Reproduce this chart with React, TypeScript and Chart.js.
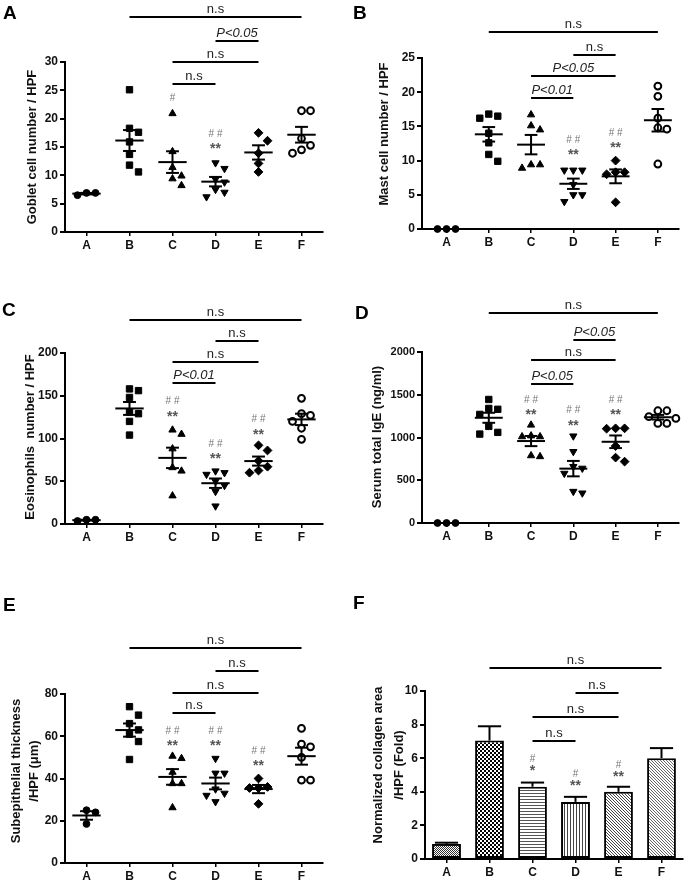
import React, { useEffect, useRef } from 'react';
import { Chart, registerables } from 'chart.js';

Chart.register(...registerables);

const FONT = '"Liberation Sans", Arial, Helvetica, sans-serif';
Chart.defaults.font.family = FONT;

const groupLabels = ['A', 'B', 'C', 'D', 'E', 'F'];

// ---------- Panel A: Goblet cell number / HPF ----------
const gobletTicks = [0, 5, 10, 15, 20, 25, 30];
const gobletValues = [
  [6.9, 6.5, 6.9],
  [25.1, 18.3, 17.6, 15.9, 13.7, 11.8, 10.6],
  [20.9, 14.2, 11.4, 9.9, 9.4, 8.2],
  [12.2, 11.2, 9.3, 8.8, 7.5, 7.0, 6.2],
  [17.5, 16.1, 13.9, 12.1, 10.6],
  [21.4, 21.4, 16.5, 15.3, 14.5, 13.9],
];
const gobletBrackets: [number, number, number, string][] = [
  [1, 5, 37.9, 'n.s'],
  [3, 4, 33.7, 'P<0.05'],
  [2, 4, 30.0, 'n.s'],
  [2, 3, 26.1, 'n.s'],
];
const gobletMarks = [[], [], ['#'], ['##', '**'], [], []];
const gobletMarkY = [0, 0, 23.6, 15.2, 0, 0];

// ---------- Panel B: Mast cell number / HPF ----------
const mastTicks = [0, 5, 10, 15, 20, 25];
const mastValues = [
  [0, 0, 0],
  [16.8, 16.5, 16.2, 14.0, 12.6, 10.9, 9.9],
  [16.7, 15.1, 14.5, 9.4, 9.4, 8.9],
  [8.6, 8.6, 8.6, 6.5, 5.0, 5.0, 4.0],
  [10.0, 8.3, 8.3, 8.0, 3.9],
  [20.9, 19.4, 16.2, 14.8, 14.6, 9.5],
];
const mastBrackets: [number, number, number, string][] = [
  [1, 5, 28.8, 'n.s'],
  [3, 4, 25.4, 'n.s'],
  [2, 4, 22.4, 'P<0.05'],
  [2, 3, 19.2, 'P<0.01'],
];
const mastMarks = [[], [], [], ['##', '**'], ['##', '**'], []];
const mastMarkY = [0, 0, 0, 11.2, 12.2, 0];

// ---------- Panel C: Eosinophils number / HPF ----------
const eosTicks = [0, 50, 100, 150, 200];
const eosValues = [
  [5, 3.5, 5],
  [158, 156, 148, 131, 129, 120, 104],
  [110, 105, 88, 66, 62, 33],
  [62, 60, 58, 50, 45, 38, 21],
  [92, 86, 74, 67, 62.5, 60],
  [147, 129, 127, 120, 112, 99],
];
const eosBrackets: [number, number, number, string][] = [
  [1, 5, 238.6, 'n.s'],
  [3, 4, 214, 'n.s'],
  [2, 4, 189.5, 'n.s'],
  [2, 3, 165, 'P<0.01'],
];
const eosMarks = [[], [], ['##', '**'], ['##', '**'], ['##', '**'], []];
const eosMarkY = [0, 0, 129, 78.8, 108, 0];

// ---------- Panel D: Serum total IgE (ng/ml) ----------
const igeTicks = [0, 500, 1000, 1500, 2000];
const igeValues = [
  [0, 0, 0],
  [1445, 1340, 1330, 1270, 1130, 1060, 1040],
  [1146, 1020, 1010, 1010, 788, 777],
  [1017, 835, 660, 640, 580, 369, 350],
  [1107, 1107, 1103, 900, 765, 718],
  [1313, 1313, 1243, 1223, 1165, 1165],
];
const igeBrackets: [number, number, number, string][] = [
  [1, 5, 2456, 'n.s'],
  [3, 4, 2140, 'P<0.05'],
  [2, 4, 1906, 'n.s'],
  [2, 3, 1626, 'P<0.05'],
];
const igeMarks = [[], [], ['##', '**'], ['##', '**'], ['##', '**'], []];
const igeMarkY = [0, 0, 1301, 1173, 1301, 0];

// ---------- Panel E: Subepithelial thickness /HPF (μm) ----------
const thickTicks = [0, 20, 40, 60, 80];
const thickValues = [
  [25, 24, 18.5],
  [74, 70, 66, 63, 61, 57.5, 49],
  [50.6, 49.5, 43, 37.6, 37.6, 26.2],
  [49.5, 42.5, 42.5, 35, 33, 32, 29],
  [40, 36, 35.5, 35.5, 28],
  [63.7, 56.3, 55, 50, 39.2, 39.2],
];
const thickBrackets: [number, number, number, string][] = [
  [1, 5, 101.8, 'n.s'],
  [3, 4, 90.9, 'n.s'],
  [2, 4, 80.5, 'n.s'],
  [2, 3, 71, 'n.s'],
];
const thickMarks = [[], [], ['##', '**'], ['##', '**'], ['##', '**'], []];
const thickMarkY = [0, 0, 56.6, 56.6, 47.1, 0];

// ---------- Panel F: Normalized collagen area /HPF (Fold) ----------
const collagenTicks = [0, 2, 4, 6, 8, 10];
const collagenMeans = [0.9, 7.05, 4.3, 3.4, 4.0, 6.0];
const collagenSem = [0.07, 0.85, 0.25, 0.3, 0.3, 0.6];
const collagenBrackets: [number, number, number, string][] = [
  [1, 5, 11.37, 'n.s'],
  [3, 4, 9.88, 'n.s'],
  [2, 4, 8.45, 'n.s'],
  [2, 3, 7.02, 'n.s'],
];
const collagenMarks = [[], [], ['#', '*'], ['#', '**'], ['#', '**'], []];
const collagenMarkY = [0, 0, 5.4, 4.5, 5.06, 0];

// ---------- marker styles per group ----------
const markerStyle = ['circle', 'rect', 'triangle', 'triangle', 'rectRot', 'circle'];
const markerRotation = [0, 0, 0, 180, 0, 0];
const markerRadius = [3.4, 4.5, 4.2, 4.2, 4.4, 3.4];
const markerFill = ['#000', '#000', '#000', '#000', '#000', '#fff'];
const markerBorderW = [1, 1, 1, 1, 1, 2];
const barPatternKinds = ['fineCheck', 'checker', 'hlines', 'vlines', 'diagDark', 'diagLight'];

type Spec = {
  kind: 'scatter' | 'bar';
  x0: number; y0: number; w: number; h: number;
  area: { l: number; t: number; r: number; b: number };
  xMin: number;
  tickSize: number;
  ticks: number[];
  values?: number[][];
  means?: number[];
  sems?: number[];
  brackets: [number, number, number, string][];
  marks: string[][];
  markY: number[];
  markGap: number;
  title: string[];
  titleX: number[];
  titleY: number;
  letter: string;
  letterX: number;
  letterY: number;
};

const panels: Spec[] = [
  {
    kind: 'scatter', x0: 0, y0: 0, w: 342, h: 262, area: { l: 65, t: 62, r: 323, b: 232 }, xMin: -0.5, tickSize: 12,
    ticks: gobletTicks, values: gobletValues, brackets: gobletBrackets, marks: gobletMarks, markY: gobletMarkY, markGap: 12,
    title: ['Goblet cell number / HPF'], titleX: [32], titleY: 147, letter: 'A', letterX: 3, letterY: 19,
  },
  {
    kind: 'scatter', x0: 342, y0: 0, w: 343, h: 262, area: { l: 80, t: 58, r: 341, b: 229 }, xMin: -0.58, tickSize: 12,
    ticks: mastTicks, values: mastValues, brackets: mastBrackets, marks: mastMarks, markY: mastMarkY, markGap: 12,
    title: ['Mast cell number / HPF'], titleX: [42], titleY: 134, letter: 'B', letterX: 11, letterY: 19,
  },
  {
    kind: 'scatter', x0: 0, y0: 262, w: 342, h: 300, area: { l: 65, t: 91, r: 323, b: 262 }, xMin: -0.5, tickSize: 12,
    ticks: eosTicks, values: eosValues, brackets: eosBrackets, marks: eosMarks, markY: eosMarkY, markGap: 12,
    title: ['Eosinophils  number / HPF'], titleX: [30], titleY: 175, letter: 'C', letterX: 2, letterY: 54,
  },
  {
    kind: 'scatter', x0: 342, y0: 262, w: 343, h: 300, area: { l: 80, t: 90, r: 341, b: 261 }, xMin: -0.58, tickSize: 11,
    ticks: igeTicks, values: igeValues, brackets: igeBrackets, marks: igeMarks, markY: igeMarkY, markGap: 12,
    title: ['Serum total IgE (ng/ml)'], titleX: [35], titleY: 175, letter: 'D', letterX: 13, letterY: 57,
  },
  {
    kind: 'scatter', x0: 0, y0: 562, w: 342, h: 320, area: { l: 65, t: 132, r: 323, b: 301 }, xMin: -0.5, tickSize: 12,
    ticks: thickTicks, values: thickValues, brackets: thickBrackets, marks: thickMarks, markY: thickMarkY, markGap: 12,
    title: ['Subepithelial thickness', '/HPF (\u03bcm)'], titleX: [16, 34], titleY: 209, letter: 'E', letterX: 3, letterY: 49,
  },
  {
    kind: 'bar', x0: 342, y0: 562, w: 343, h: 320, area: { l: 83, t: 129, r: 341, b: 297 }, xMin: -0.5, tickSize: 12,
    ticks: collagenTicks, means: collagenMeans, sems: collagenSem, brackets: collagenBrackets, marks: collagenMarks, markY: collagenMarkY, markGap: 9,
    title: ['Normalized collagen area', '/HPF (Fold)'], titleX: [36, 57], titleY: 203, letter: 'F', letterX: 11, letterY: 47,
  },
];

function makePattern(kind: string): CanvasPattern | string {
  const c = document.createElement('canvas');
  const g = c.getContext('2d');
  if (!g) return '#888';
  const px = (x: number, y: number, col: string) => { g.fillStyle = col; g.fillRect(x, y, 1, 1); };
  if (kind === 'fineCheck') {
    c.width = 2; c.height = 2;
    g.fillStyle = '#fff'; g.fillRect(0, 0, 2, 2);
    px(0, 0, '#333'); px(1, 1, '#333');
  } else if (kind === 'checker') {
    c.width = 4; c.height = 4;
    g.fillStyle = '#000'; g.fillRect(0, 0, 4, 4);
    g.fillStyle = '#fff'; g.fillRect(0, 0, 2, 2); g.fillRect(2, 2, 2, 2);
  } else if (kind === 'hlines') {
    c.width = 3; c.height = 3;
    g.fillStyle = '#fff'; g.fillRect(0, 0, 3, 3);
    g.fillStyle = '#555'; g.fillRect(0, 0, 3, 1);
  } else if (kind === 'vlines') {
    c.width = 3; c.height = 3;
    g.fillStyle = '#fff'; g.fillRect(0, 0, 3, 3);
    g.fillStyle = '#444'; g.fillRect(0, 0, 1, 3);
  } else {
    c.width = 3; c.height = 3;
    g.fillStyle = '#fff'; g.fillRect(0, 0, 3, 3);
    const col = kind === 'diagDark' ? '#444' : '#666';
    for (let i = 0; i < 3; i++) px(i, i, col);
  }
  const ctx = document.createElement('canvas').getContext('2d');
  return (ctx && ctx.createPattern(c, 'repeat')) || '#888';
}

function overlay(spec: Spec) {
  return {
    id: 'overlay',
    afterDatasetsDraw(chart: any) {
      const ctx: CanvasRenderingContext2D = chart.ctx;
      const xs = chart.scales.x;
      const ys = chart.scales.y;
      const unit = xs.getPixelForValue(1) - xs.getPixelForValue(0);
      const line = (x1: number, y1: number, x2: number, y2: number) => {
        ctx.beginPath(); ctx.moveTo(x1, y1); ctx.lineTo(x2, y2); ctx.stroke();
      };
      ctx.save();
      ctx.strokeStyle = '#000';
      ctx.lineWidth = 2;
      ctx.lineCap = 'butt';

      if (spec.kind === 'scatter' && spec.values) {
        spec.values.forEach((vals, g) => {
          const n = vals.length;
          const mean = vals.reduce((a, b) => a + b, 0) / n;
          const sd = Math.sqrt(vals.reduce((a, b) => a + (b - mean) * (b - mean), 0) / (n - 1));
          const sem = sd / Math.sqrt(n);
          const cx = xs.getPixelForValue(g);
          const my = ys.getPixelForValue(mean);
          line(cx - 0.33 * unit, my, cx + 0.33 * unit, my);
          if (sem > 0) {
            const t = ys.getPixelForValue(mean + sem);
            const b = ys.getPixelForValue(mean - sem);
            line(cx, t, cx, b);
            line(cx - 0.15 * unit, t, cx + 0.15 * unit, t);
            line(cx - 0.15 * unit, b, cx + 0.15 * unit, b);
          }
        });
      } else if (spec.means && spec.sems) {
        spec.means.forEach((m, g) => {
          const cx = xs.getPixelForValue(g);
          const b = ys.getPixelForValue(m);
          const t = ys.getPixelForValue(m + spec.sems![g]);
          line(cx, b, cx, t);
          line(cx - 0.27 * unit, t, cx + 0.27 * unit, t);
        });
      }

      // significance brackets
      spec.brackets.forEach(([a, b, yv, label]) => {
        const y = Math.round(ys.getPixelForValue(yv));
        const x1 = xs.getPixelForValue(a);
        const x2 = xs.getPixelForValue(b);
        ctx.lineWidth = 2;
        line(x1, y, x2, y);
        ctx.fillStyle = '#222';
        ctx.font = (label.startsWith('P') ? 'italic ' : '') + '13px ' + FONT;
        ctx.textAlign = 'center';
        ctx.textBaseline = 'alphabetic';
        ctx.fillText(label, (x1 + x2) / 2, y - 4);
      });

      // group significance marks (# / *)
      spec.marks.forEach((lines, g) => {
        if (!lines.length) return;
        const cx = xs.getPixelForValue(g);
        const by = ys.getPixelForValue(spec.markY[g]);
        lines.forEach((txt, i) => {
          const y = by - (lines.length - 1 - i) * spec.markGap;
          ctx.textAlign = 'center';
          ctx.textBaseline = 'middle';
          if (txt.startsWith('#')) {
            ctx.font = '10px ' + FONT;
            ctx.fillStyle = '#777';
            ctx.fillText(txt.split('').join(' '), cx, y);
          } else {
            ctx.font = 'bold 14px ' + FONT;
            ctx.fillStyle = '#555';
            ctx.fillText(txt, cx, y + 3);
          }
        });
      });

      // y-axis title
      ctx.fillStyle = '#111';
      ctx.font = 'bold 13px ' + FONT;
      ctx.textAlign = 'center';
      ctx.textBaseline = 'middle';
      spec.title.forEach((t, i) => {
        ctx.save();
        ctx.translate(spec.titleX[i], spec.titleY);
        ctx.rotate(-Math.PI / 2);
        ctx.fillText(t, 0, 0);
        ctx.restore();
      });

      // panel letter
      ctx.font = 'bold 19px ' + FONT;
      ctx.textAlign = 'left';
      ctx.textBaseline = 'alphabetic';
      ctx.fillStyle = '#000';
      ctx.fillText(spec.letter, spec.letterX, spec.letterY);
      ctx.restore();
    },
  };
}

function axes(spec: Spec) {
  const tickFont = { family: FONT, size: spec.tickSize, weight: 'bold' as const };
  const x: any = {
    min: spec.xMin,
    max: 5.5,
    grid: { display: true, drawOnChartArea: false, drawTicks: true, tickLength: 4, color: '#000', lineWidth: 1.5, offset: false },
    border: { display: true, color: '#000', width: 2 },
    ticks: { font: { ...tickFont, size: 12 }, color: '#111', padding: 2, maxRotation: 0, autoSkip: false },
    afterFit: (s: any) => { s.height = spec.h - spec.area.b; },
  };
  if (spec.kind === 'scatter') {
    x.type = 'linear';
    x.afterBuildTicks = (s: any) => { s.ticks = groupLabels.map((_, i) => ({ value: i })); };
    x.ticks.callback = (v: number) => groupLabels[Math.round(v)];
  } else {
    x.type = 'category';
    delete x.min; delete x.max;
    x.offset = true;
  }
  const y: any = {
    type: 'linear',
    min: 0,
    max: spec.ticks[spec.ticks.length - 1],
    afterBuildTicks: (s: any) => { s.ticks = spec.ticks.map((v) => ({ value: v })); },
    grid: { display: true, drawOnChartArea: false, drawTicks: true, tickLength: 5, color: '#000', lineWidth: 2 },
    border: { display: true, color: '#000', width: 2 },
    ticks: { font: tickFont, color: '#111', padding: 2, callback: (v: number) => String(v) },
    afterFit: (s: any) => { s.width = spec.area.l; },
  };
  return { x, y };
}

// column-scatter layout: spread points that would overlap horizontally
function swarm(chart: any, values: number[][]) {
  const xs = chart.scales.x;
  const ys = chart.scales.y;
  const unit = xs.getPixelForValue(1) - xs.getPixelForValue(0);
  const step = 9;
  const yGap = 8.5;
  values.forEach((vals, g) => {
    const placed: { dx: number; py: number }[] = [];
    const offs = new Array(vals.length).fill(0);
    const order = vals.map((_, i) => i).sort((a, b) => vals[b] - vals[a]);
    for (const i of order) {
      const py = ys.getPixelForValue(vals[i]);
      let chosen = 0;
      for (let k = 0; k < 30; k++) {
        const cand = k === 0 ? 0 : (k % 2 ? 1 : -1) * Math.ceil(k / 2) * step;
        const hit = placed.some((p) => Math.abs(p.dx - cand) < step - 0.01 && Math.abs(p.py - py) < yGap);
        if (!hit) { chosen = cand; break; }
      }
      placed.push({ dx: chosen, py });
      offs[i] = chosen / unit;
    }
    chart.data.datasets[g].data = vals.map((v, i) => ({ x: g + offs[i], y: v }));
  });
  chart.update('none');
}

function Panel({ spec }: { spec: Spec }) {
  const ref = useRef<HTMLCanvasElement>(null);
  useEffect(() => {
    const canvas = ref.current;
    if (!canvas) return;
    const { x, y } = axes(spec);
    const common = {
      animation: false as const,
      responsive: false,
      maintainAspectRatio: false,
      devicePixelRatio: 1,
      layout: { padding: { top: spec.area.t, right: spec.w - spec.area.r, bottom: 0, left: 0 } },
      plugins: { legend: { display: false }, tooltip: { enabled: false } },
      scales: { x, y },
    };
    let chart: any;
    if (spec.kind === 'scatter' && spec.values) {
      chart = new Chart(canvas, {
        type: 'scatter',
        data: {
          datasets: spec.values.map((vals, g) => ({
            label: groupLabels[g],
            data: vals.map((v) => ({ x: g, y: v })),
            pointStyle: markerStyle[g] as any,
            rotation: markerRotation[g],
            pointRadius: markerRadius[g],
            pointBackgroundColor: markerFill[g],
            pointBorderColor: '#000',
            pointBorderWidth: markerBorderW[g],
            showLine: false,
            clip: false as any,
          })),
        },
        options: common as any,
        plugins: [overlay(spec)],
      });
      swarm(chart, spec.values);
    } else {
      chart = new Chart(canvas, {
        type: 'bar',
        data: {
          labels: groupLabels,
          datasets: [{
            label: 'collagen',
            data: spec.means || [],
            backgroundColor: barPatternKinds.map(makePattern) as any,
            borderColor: '#000',
            borderWidth: 2,
            borderSkipped: false,
            barPercentage: 0.67,
            categoryPercentage: 1,
          }],
        },
        options: common as any,
        plugins: [overlay(spec)],
      });
    }
    return () => chart.destroy();
  }, [spec]);
  return (
    <canvas
      ref={ref}
      width={spec.w}
      height={spec.h}
      style={{ position: 'absolute', left: spec.x0, top: spec.y0, width: spec.w, height: spec.h }}
    />
  );
}

export default function App() {
  return (
    <div style={{ position: 'fixed', left: 0, top: 0, width: 685, height: 882, background: '#fff', overflow: 'hidden' }}>
      {panels.map((p) => (
        <Panel key={p.letter} spec={p} />
      ))}
    </div>
  );
}
